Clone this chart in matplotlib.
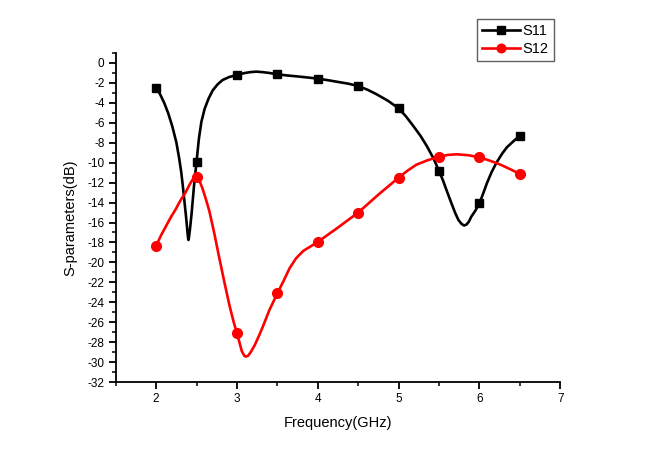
import matplotlib
matplotlib.use("Agg")
import matplotlib.pyplot as plt
from matplotlib.ticker import MultipleLocator

plt.rcParams['font.family'] = ['Liberation Sans', 'DejaVu Sans']
plt.rcParams['axes.unicode_minus'] = False

# Marker data (GHz, dB)
freq_markers = [2.0, 2.5, 3.0, 3.5, 4.0, 4.5, 5.0, 5.5, 6.0, 6.5]
s11_markers = [-2.48, -9.96, -1.2, -1.14, -1.57, -2.31, -4.55, -10.83, -14.07, -7.29]
s12_markers = [-18.35, -11.47, -27.1, -23.1, -17.95, -15.0, -11.5, -9.4, -9.46, -11.13]

# Continuous curves
s11_curve_f = [2.00, 2.05, 2.10, 2.15, 2.20, 2.25, 2.285, 2.31, 2.33, 2.35, 2.37, 2.385, 2.395,
               2.40, 2.405, 2.42, 2.44, 2.455, 2.47, 2.485, 2.50, 2.515, 2.53, 2.56, 2.60,
               2.65, 2.70, 2.76, 2.82, 2.90, 3.00, 3.10, 3.17, 3.24, 3.32, 3.40, 3.50, 3.62,
               3.75, 3.88, 4.00, 4.12, 4.25, 4.38, 4.50, 4.62, 4.73, 4.87, 5.00, 5.09, 5.18,
               5.27, 5.35, 5.43, 5.50, 5.55, 5.59, 5.65, 5.70, 5.74, 5.78, 5.81, 5.84, 5.87,
               5.90, 5.95, 6.00, 6.05, 6.09, 6.15, 6.21, 6.28, 6.34, 6.42, 6.50]
s11_curve_db = [-2.48, -3.15, -4.0, -5.05, -6.35, -7.95, -9.55, -10.9, -12.3, -13.85, -15.4, -16.7,
                -17.55, -17.75, -17.55, -16.6, -15.0, -13.6, -12.2, -11.05, -9.96, -8.7, -7.55,
                -5.9, -4.6, -3.55, -2.75, -2.15, -1.72, -1.42, -1.2, -1.0, -0.91, -0.87, -0.92,
                -1.0, -1.14, -1.25, -1.35, -1.46, -1.57, -1.72, -1.9, -2.08, -2.31, -2.7, -3.15,
                -3.8, -4.55, -5.35, -6.3, -7.3, -8.35, -9.55, -10.83, -11.8, -12.7, -14.0,
                -15.05, -15.75, -16.15, -16.3, -16.2, -15.9, -15.4, -14.8, -14.07, -13.0, -12.1,
                -10.95, -10.0, -9.1, -8.45, -7.85, -7.29]

s12_curve_f = [2.00, 2.06, 2.12, 2.18, 2.24, 2.30, 2.37, 2.42, 2.46, 2.50, 2.535, 2.57, 2.61,
               2.66, 2.72, 2.78, 2.85, 2.91, 2.96, 3.00, 3.03, 3.06, 3.09, 3.11, 3.14, 3.17,
               3.22, 3.27, 3.32, 3.40, 3.50, 3.58, 3.65, 3.73, 3.82, 3.91, 4.00, 4.25, 4.50,
               4.75, 5.00, 5.11, 5.22, 5.36, 5.50, 5.61, 5.72, 5.86, 6.00, 6.13, 6.26, 6.38,
               6.50]
s12_curve_db = [-18.35, -17.3, -16.4, -15.5, -14.7, -13.8, -12.9, -12.1, -11.6, -11.47, -11.8,
                -12.5, -13.5, -14.9, -17.1, -19.5, -22.2, -24.4, -26.0, -27.1, -28.0, -28.9,
                -29.35, -29.45, -29.35, -29.0, -28.3, -27.4, -26.45, -24.8, -23.1, -21.8,
                -20.6, -19.6, -18.85, -18.4, -17.95, -16.5, -15.0, -13.2, -11.5, -10.8,
                -10.2, -9.75, -9.4, -9.22, -9.16, -9.25, -9.46, -9.8, -10.2, -10.65, -11.13]

fig = plt.figure(figsize=(6.5, 4.57), dpi=100)
ax = fig.add_axes([0.178, 0.164, 0.684, 0.72])

ax.plot(s11_curve_f, s11_curve_db, color='black', lw=1.9, zorder=2,
        solid_joinstyle='round')
ax.plot(s12_curve_f, s12_curve_db, color='red', lw=1.9, zorder=2,
        solid_joinstyle='round')
ax.plot(freq_markers, s11_markers, ls='none', marker='s', color='black', ms=6.2, zorder=3)
ax.plot(freq_markers, s12_markers, ls='none', marker='o', color='red', ms=7, zorder=3)

# legend handles
h1, = ax.plot([], [], color='black', lw=1.9, marker='s', ms=5.2, label='S11')
h2, = ax.plot([], [], color='red', lw=1.9, marker='o', ms=6.2, label='S12')
leg = fig.legend(handles=[h1, h2], loc='upper right', bbox_to_anchor=(0.852, 0.958),
                 fontsize=10.5, frameon=True, fancybox=False, framealpha=1,
                 edgecolor='#606060', handlelength=2.6, handletextpad=0.2,
                 borderpad=0.35, labelspacing=0.25, borderaxespad=0)
leg.get_frame().set_linewidth(1.0)

ax.set_xlim(1.5, 7)
ax.set_ylim(-32, 1.0)
ax.xaxis.set_minor_locator(MultipleLocator(0.5))
ax.yaxis.set_minor_locator(MultipleLocator(1))
ax.set_xticks([2, 3, 4, 5, 6, 7])
ax.set_yticks(list(range(-32, 1, 2)))

for s in ['top', 'right']:
    ax.spines[s].set_visible(False)
for s in ['left', 'bottom']:
    ax.spines[s].set_linewidth(1.3)

ax.tick_params(which='major', direction='out', length=5, width=1.3, labelsize=8.5, pad=3)
ax.tick_params(which='minor', direction='out', length=3, width=1.1)

ax.set_xlabel('Frequency(GHz)', fontsize=10.5, labelpad=8)
ax.set_ylabel('S-parameters(dB)', fontsize=10.5, labelpad=7)

fig.savefig('out.png', dpi=100)
